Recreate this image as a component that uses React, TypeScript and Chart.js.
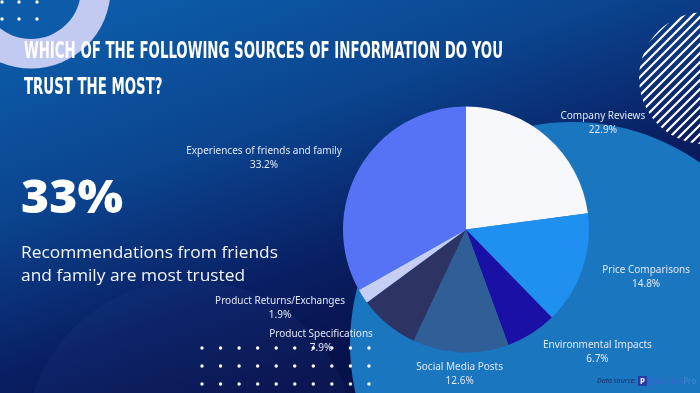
import React, { useEffect, useLayoutEffect, useRef } from "react";
import { Chart, registerables } from "chart.js";

Chart.register(...registerables);

// ---- data ----
const categories = [
  "Company Reviews",
  "Price Comparisons",
  "Environmental Impacts",
  "Social Media Posts",
  "Product Specifications",
  "Product Returns/Exchanges",
  "Experiences of friends and family",
];
const shares = [22.9, 14.8, 6.7, 12.6, 7.9, 1.9, 33.2];
const sliceColors = ["#f6f8fc", "#1f8ff0", "#1b10a6", "#2f5f96", "#2d3463", "#c6cef6", "#5672f5"];
// label placement relative to each slice: angle shift (deg) and radius factor
const labelAngleShift = [10.9, -4.2, -14.8, 0, 13, 9.9, -10.8];
const labelRadius = [1.41, 1.515, 1.461, 1.176, 1.487, 1.643, 1.741];

const headline = ["WHICH OF THE FOLLOWING SOURCES OF INFORMATION DO YOU", "TRUST THE MOST?"];
const bigStat = "33%";
const subtitle = ["Recommendations from friends", "and family are most trusted"];

const W = 700;
const H = 393;

const bgPlugin = {
  id: "bgDecor",
  beforeDraw(chart: any) {
    const ctx = chart.ctx as CanvasRenderingContext2D;
    ctx.save();
    const g = ctx.createLinearGradient(120, 0, 260, H);
    g.addColorStop(0, "#0c5ca9");
    g.addColorStop(0.4, "#0b448f");
    g.addColorStop(0.75, "#091f63");
    g.addColorStop(1, "#07114a");
    ctx.fillStyle = g;
    ctx.fillRect(0, 0, W, H);

    // faint circle bottom-left
    ctx.fillStyle = "rgba(70,100,190,0.08)";
    ctx.beginPath();
    ctx.arc(190, 445, 165, 0, Math.PI * 2);
    ctx.fill();

    // big circle behind pie
    ctx.fillStyle = "#1b76c0";
    ctx.beginPath();
    ctx.arc(572, 344, 222, 0, Math.PI * 2);
    ctx.fill();

    // top-left ring
    ctx.fillStyle = "#c3caf2";
    ctx.beginPath();
    ctx.arc(31, -11, 79.5, 0, Math.PI * 2);
    ctx.fill();
    ctx.fillStyle = g;
    ctx.beginPath();
    ctx.arc(31, -11, 50, 0, Math.PI * 2);
    ctx.fill();
    ctx.fillStyle = "#ffffff";
    [2, 19].forEach((y) =>
      [2, 19, 37].forEach((x) => {
        ctx.beginPath();
        ctx.arc(x, y, 1.7, 0, Math.PI * 2);
        ctx.fill();
      })
    );

    // striped circle top-right
    ctx.save();
    ctx.beginPath();
    ctx.arc(705, 78, 66, 0, Math.PI * 2);
    ctx.clip();
    ctx.strokeStyle = "#ffffff";
    ctx.lineWidth = 2.2;
    for (let k = -100; k < 400; k += 9) {
      ctx.beginPath();
      ctx.moveTo(600, k + 100);
      ctx.lineTo(800, k - 100);
      ctx.stroke();
    }
    ctx.restore();

    // dot grid bottom-left
    ctx.fillStyle = "#ffffff";
    [348, 366, 384].forEach((y) => {
      for (let c = 0; c < 10; c++) {
        ctx.beginPath();
        ctx.arc(202 + c * 18.55, y, 1.7, 0, Math.PI * 2);
        ctx.fill();
      }
    });
    ctx.restore();
  },
};

const labelPlugin = {
  id: "sliceLabels",
  afterDraw(chart: any) {
    const ctx = chart.ctx as CanvasRenderingContext2D;
    const meta = chart.getDatasetMeta(0);
    ctx.save();
    ctx.fillStyle = "#dfe7f5";
    ctx.font = '10px "Noto Sans", "Open Sans", sans-serif';
    ctx.textAlign = "center";
    ctx.textBaseline = "middle";
    meta.data.forEach((arc: any, i: number) => {
      const p = arc.getProps(["x", "y", "startAngle", "endAngle", "outerRadius"], true);
      const mid = (p.startAngle + p.endAngle) / 2 + (labelAngleShift[i] * Math.PI) / 180;
      const r = p.outerRadius * labelRadius[i];
      const x = p.x + Math.cos(mid) * r;
      const y = p.y + Math.sin(mid) * r;
      ctx.fillText(categories[i], x, y - 7);
      ctx.fillText(shares[i].toFixed(1) + "%", x, y + 7);
    });
    ctx.restore();
  },
};

export default function App() {
  const canvasRef = useRef<HTMLCanvasElement | null>(null);
  const t1 = useRef<HTMLSpanElement | null>(null);
  const t2 = useRef<HTMLSpanElement | null>(null);
  const big = useRef<HTMLSpanElement | null>(null);
  const s1 = useRef<HTMLSpanElement | null>(null);
  const s2 = useRef<HTMLSpanElement | null>(null);

  useLayoutEffect(() => {
    const fit = (el: HTMLElement | null, target: number, others: (HTMLElement | null)[] = []) => {
      if (!el) return;
      const w = el.getBoundingClientRect().width;
      if (!w) return;
      const s = target / w;
      [el, ...others].forEach((e) => {
        if (e) {
          e.style.transform = `scaleX(${s})`;
          e.style.transformOrigin = "0 0";
        }
      });
    };
    fit(t1.current, 479, [t2.current]);
    fit(big.current, 102);
    fit(s1.current, 257, [s2.current]);
  }, []);

  useEffect(() => {
    const canvas = canvasRef.current;
    if (!canvas) return;
    const chart = new Chart(canvas, {
      type: "pie",
      data: {
        labels: categories,
        datasets: [
          {
            data: shares,
            backgroundColor: sliceColors,
            borderWidth: 0,
          },
        ],
      },
      options: {
        responsive: false,
        animation: false,
        layout: { padding: { left: 343, right: 111, top: 106.5, bottom: 40.5 } },
        plugins: {
          legend: { display: false },
          tooltip: { enabled: false },
        },
      },
      plugins: [bgPlugin, labelPlugin],
    });
    return () => chart.destroy();
  }, []);

  const titleStyle: React.CSSProperties = {
    position: "absolute",
    left: 24,
    display: "inline-block",
    whiteSpace: "nowrap",
    color: "#ffffff",
    fontFamily: '"Liberation Sans Narrow", "DejaVu Sans Condensed", "Roboto", sans-serif',
    fontWeight: 700,
    fontSize: 23,
    lineHeight: "23px",
    letterSpacing: 0,
  };
  const subStyle: React.CSSProperties = {
    position: "absolute",
    left: 21,
    display: "inline-block",
    whiteSpace: "nowrap",
    color: "#f2f5fb",
    fontFamily: '"Open Sans", "Noto Sans", sans-serif',
    fontSize: 17,
    lineHeight: "23px",
  };

  return (
    <div
      style={{
        position: "fixed",
        left: 0,
        top: 0,
        width: W,
        height: H,
        overflow: "hidden",
        background: "#0b3f8a",
      }}
    >
      <canvas ref={canvasRef} width={W} height={H} style={{ position: "absolute", left: 0, top: 0, width: W, height: H }} />
      <span ref={t1} style={{ ...titleStyle, top: 38.5 }}>{headline[0]}</span>
      <span ref={t2} style={{ ...titleStyle, top: 74.5 }}>{headline[1]}</span>
      <span
        ref={big}
        style={{
          position: "absolute",
          left: 21,
          top: 172,
          display: "inline-block",
          whiteSpace: "nowrap",
          color: "#ffffff",
          fontFamily: '"Open Sans", "Lato", sans-serif',
          fontWeight: 800,
          fontSize: 46,
          lineHeight: "46px",
        }}
      >
        {bigStat}
      </span>
      <span ref={s1} style={{ ...subStyle, top: 240 }}>{subtitle[0]}</span>
      <span ref={s2} style={{ ...subStyle, top: 263 }}>{subtitle[1]}</span>
      <div
        style={{
          position: "absolute",
          left: 597,
          top: 376,
          display: "flex",
          alignItems: "center",
          gap: 2,
          fontFamily: '"Noto Sans", sans-serif',
          fontSize: 7,
          lineHeight: "10px",
          whiteSpace: "nowrap",
        }}
      >
        <span style={{ color: "#1d2c66", fontStyle: "italic" }}>Data source:</span>
        <span
          style={{
            display: "inline-block",
            width: 9,
            height: 10,
            background: "#2a3aa6",
            color: "#ffffff",
            fontWeight: 700,
            fontSize: 8,
            lineHeight: "10px",
            textAlign: "center",
          }}
        >
          P
        </span>
        <span style={{ color: "#3b63cf", fontSize: 8 }}>
          Question<span style={{ color: "#3f86d6" }}>Pro</span>
        </span>
      </div>
    </div>
  );
}
